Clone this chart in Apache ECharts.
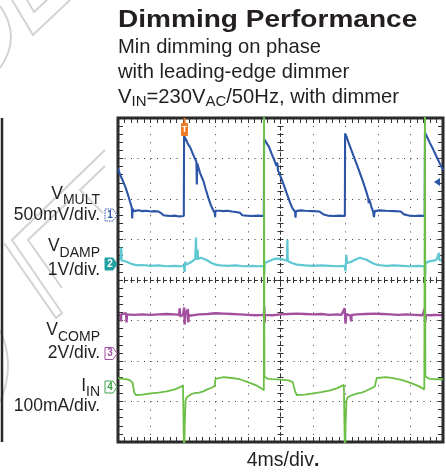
<!DOCTYPE html>
<html>
<head>
<meta charset="utf-8">
<script src="https://cdn.jsdelivr.net/npm/echarts@6/dist/echarts.min.js"></script>
<style>
  html, body { margin: 0; padding: 0; background: #fff; }
  #scope { width: 446px; height: 474px; }
</style>
</head>
<body>
<div id="scope"></div>
<script>
// horizontal: time in ms (4ms/div, 10 div); vertical: scope divisions (8 div)
var timeRange = [0, 40]
var divRange = [0, 8]

// [t ms, divisions]
var vMult = [
  [0, 6.75], [0.3, 6.58], [0.6, 6.45], [0.9, 6.30], [1.2, 6.12], [1.5, 5.92], [1.7, 5.78], [1.75, 5.52], [1.8, 5.76],
  [2.0, 5.70], [2.5, 5.72], [3.0, 5.70], [3.5, 5.71], [4.0, 5.69], [4.5, 5.70], [5.0, 5.69], [5.3, 5.65], [5.6, 5.60],
  [6.0, 5.59], [6.5, 5.58], [7.0, 5.59], [7.5, 5.57], [8.1, 5.58],
  [8.13, 7.55], [8.3, 7.50], [8.6, 7.36], [8.9, 7.27], [9.2, 7.12], [9.5, 6.98], [9.65, 6.92], [9.7, 6.36], [9.75, 6.88],
  [10.1, 6.64], [10.5, 6.45], [10.8, 6.24], [11.1, 6.04], [11.4, 5.86], [11.7, 5.73], [11.9, 5.66], [11.95, 5.55], [12.0, 5.71],
  [12.5, 5.71], [13.0, 5.70], [13.5, 5.71], [14.0, 5.69], [14.5, 5.68], [15.0, 5.66], [15.3, 5.60], [15.8, 5.59], [16.5, 5.58],
  [17.2, 5.59], [17.95, 5.58],
  [17.98, 7.48], [18.1, 7.52], [18.3, 7.38], [18.6, 7.28], [18.9, 7.12], [19.2, 6.98], [19.5, 6.82], [19.6, 6.90], [19.7, 6.70],
  [20.0, 6.56], [20.4, 6.35], [20.8, 6.12], [21.2, 5.90], [21.5, 5.76], [21.8, 5.68], [21.85, 5.54], [21.9, 5.70], [22.5, 5.72],
  [23.0, 5.71], [24.0, 5.70], [24.8, 5.69], [25.3, 5.62], [25.8, 5.59], [26.5, 5.58], [27.3, 5.59], [27.92, 5.58],
  [27.95, 7.62], [28.1, 7.55], [28.4, 7.38], [28.7, 7.22], [29.0, 7.06], [29.3, 6.90], [29.7, 6.68], [30.1, 6.46], [30.5, 6.22],
  [30.8, 6.02], [30.85, 5.90], [30.9, 6.00], [31.2, 5.80], [31.4, 5.69], [31.5, 5.55], [31.6, 5.70], [32.2, 5.72], [33.0, 5.71],
  [34.0, 5.70], [34.8, 5.69], [35.2, 5.62], [35.8, 5.59], [36.5, 5.58], [37.2, 5.59], [37.75, 5.58],
  [37.78, 7.64], [38.0, 7.55], [38.4, 7.38], [38.8, 7.22], [39.2, 7.05], [39.6, 6.88], [40, 6.72]
]

var vDamp = [
  [0, 4.50], [0.3, 4.52], [0.4, 4.80], [0.45, 4.48], [0.8, 4.47], [1.2, 4.44], [1.6, 4.40], [2.0, 4.38], [2.5, 4.36],
  [3.0, 4.37], [4.0, 4.35], [5.0, 4.36], [6.0, 4.34], [7.0, 4.35], [7.8, 4.34], [8.1, 4.36], [8.2, 4.20], [8.25, 4.45],
  [8.4, 4.38], [8.8, 4.42], [9.2, 4.47], [9.5, 4.52], [9.6, 5.05], [9.65, 4.50], [9.8, 4.75], [9.85, 4.52], [10.2, 4.55],
  [10.6, 4.52], [11.0, 4.48], [11.5, 4.42], [12.0, 4.38], [12.6, 4.36], [13.5, 4.35], [14.5, 4.36], [15.5, 4.34],
  [16.5, 4.35], [17.5, 4.34], [17.95, 4.35], [18.0, 4.15], [18.05, 4.42], [18.4, 4.45], [18.8, 4.48], [19.2, 4.52],
  [19.6, 4.53], [20.0, 4.52], [20.4, 4.50], [20.8, 4.48], [20.85, 5.00], [20.9, 4.47], [21.4, 4.42], [22.0, 4.38],
  [23.0, 4.36], [24.0, 4.35], [25.0, 4.36], [26.0, 4.35], [27.0, 4.34], [27.9, 4.35], [28.0, 4.22], [28.1, 4.62],
  [28.2, 4.42], [28.6, 4.44], [29.0, 4.48], [29.4, 4.52], [29.8, 4.55], [30.2, 4.52], [30.6, 4.50], [31.0, 4.45],
  [31.5, 4.40], [32.0, 4.37], [33.0, 4.35], [34.0, 4.36], [35.0, 4.35], [36.0, 4.34], [37.0, 4.35], [37.75, 4.34],
  [37.8, 4.10], [37.85, 4.42], [38.3, 4.46], [38.8, 4.48], [39.2, 4.50], [39.5, 4.67], [39.55, 4.49], [40, 4.48]
]

var vComp = [
  [0, 3.16], [0.3, 3.12], [0.35, 2.98], [0.4, 3.15], [1.0, 3.18], [1.05, 2.95], [1.1, 3.15], [2.0, 3.14], [3.0, 3.15],
  [4.0, 3.14], [5.0, 3.15], [6.0, 3.16], [7.0, 3.15], [7.5, 3.14], [7.6, 3.30], [7.65, 3.10], [8.0, 3.14], [8.15, 3.32],
  [8.2, 2.90], [8.3, 3.15], [8.6, 3.28], [8.65, 2.95], [8.7, 3.14], [9.0, 3.12], [9.5, 3.14], [10.0, 3.15], [11.0, 3.16],
  [12.0, 3.18], [13.0, 3.17], [14.0, 3.16], [15.0, 3.15], [16.0, 3.14], [17.0, 3.13], [17.95, 3.14], [18.0, 3.35],
  [18.05, 2.95], [18.1, 3.14], [19.0, 3.13], [20.0, 3.15], [21.0, 3.16], [22.0, 3.17], [23.0, 3.16], [24.0, 3.15],
  [25.0, 3.16], [26.0, 3.14], [27.0, 3.15], [27.5, 3.14], [27.9, 3.30], [28.0, 2.92], [28.1, 3.16], [28.6, 3.12],
  [28.7, 2.98], [28.75, 3.14], [29.5, 3.15], [30.5, 3.16], [31.5, 3.17], [32.5, 3.16], [33.5, 3.15], [34.5, 3.14],
  [35.5, 3.15], [36.5, 3.14], [37.5, 3.13], [37.75, 3.30], [37.8, 2.95], [37.9, 3.14], [38.5, 3.13], [39.0, 3.14], [40, 3.13]
]

var iIn = [
  [0, 1.58], [0.5, 1.56], [1.0, 1.55], [1.5, 1.52], [1.8, 1.46], [2.0, 1.22], [2.2, 1.16], [3.0, 1.17], [4.0, 1.20],
  [5.0, 1.22], [6.0, 1.25], [7.0, 1.30], [7.7, 1.36], [8.0, 1.40], [8.1, 1.42], [8.14, -0.5], [8.22, 0.5],
  [8.32, 1.02], [8.45, 1.10], [8.6, 1.13], [9.0, 1.18], [9.5, 1.21], [10.0, 1.22], [10.5, 1.25], [11.0, 1.30], [11.5, 1.34],
  [11.9, 1.38], [12.0, 1.56], [12.1, 1.60], [13.0, 1.60], [14.0, 1.58], [15.0, 1.55], [16.0, 1.48], [17.0, 1.40],
  [17.6, 1.33], [17.95, 1.28], [17.97, 9], [18.02, 1.62], [18.4, 1.56], [19.0, 1.55], [20.0, 1.54], [21.0, 1.52],
  [21.5, 1.48], [21.8, 1.25], [22.0, 1.16], [23.0, 1.17], [24.0, 1.20], [25.0, 1.23], [26.0, 1.27], [27.0, 1.33],
  [27.8, 1.41], [27.9, 1.42], [27.94, -0.5], [28.02, 0.5], [28.12, 1.02], [28.25, 1.10], [28.5, 1.13], [29.0, 1.17],
  [29.5, 1.20], [30.0, 1.22], [30.5, 1.26], [31.0, 1.31], [31.6, 1.37], [31.75, 1.40], [31.85, 1.58], [32.0, 1.60],
  [33.0, 1.60], [34.0, 1.57], [35.0, 1.53], [36.0, 1.46], [37.0, 1.38], [37.7, 1.30], [37.76, 1.28], [37.78, 9],
  [37.83, 1.62], [38.3, 1.56], [39.0, 1.55], [40, 1.55]
]

var channelNames = ['MULT', 'DAMP', 'COMP', 'IN']
var channelScales = ['500mV/div.', '1V/div.', '2V/div.', '100mA/div.']
var titleText = 'Dimming Performance'
var subLines = ['Min dimming on phase', 'with leading-edge dimmer']
var timeScale = '4ms/div'

var colors = {
  mult: '#2d55a7',
  damp: '#5fc8d2',
  comp: '#a24f9f',
  iin: '#6cbf45',
  ink: '#231f20',
  frame: '#2a2a2a',
  mark: '#d3d3d3'
}
var FONT = '"Liberation Sans", Arial, sans-serif'

var ctx = document.createElement('canvas').getContext('2d')
function textWidth (str, font) {
  ctx.font = font
  return ctx.measureText(str).width
}

// a run of text pieces [text, size, dy, weight]; align left/right/center at x
function textRun (pieces, x, y, align) {
  var fonts = pieces.map(function (p) { return (p[3] || 'normal') + ' ' + p[1] + 'px ' + FONT })
  var widths = pieces.map(function (p, i) { return textWidth(p[0], fonts[i]) })
  var total = widths.reduce(function (a, b) { return a + b }, 0)
  var cx = align === 'right' ? x - total : (align === 'center' ? x - total / 2 : x)
  return pieces.map(function (p, i) {
    var el = {
      type: 'text',
      x: cx,
      y: y + p[2],
      z: 10,
      style: { text: p[0], font: fonts[i], fill: colors.ink, align: 'left', verticalAlign: 'middle' }
    }
    cx += widths[i]
    return el
  })
}

function chanMarker (num, cy, color, filled, dashed) {
  return [{
    type: 'polygon',
    z: 10,
    shape: { points: [[105, cy - 6], [113, cy - 6], [117, cy], [113, cy + 6], [105, cy + 6]] },
    style: { fill: filled ? color : '#fff', stroke: color, lineWidth: 1, lineDash: dashed ? [1.5, 1] : null }
  }, {
    type: 'text',
    z: 11,
    x: 110,
    y: cy,
    style: { text: String(num), font: 'bold 10px ' + FONT, fill: filled ? '#fff' : color, align: 'center', verticalAlign: 'middle' }
  }]
}

// faint watermark strokes behind everything
function wm (type, shape) {
  return { type: type, z: 0, silent: true, shape: shape, style: { stroke: colors.mark, lineWidth: 2, fill: null } }
}
var watermark = [
  wm('bezierCurve', { x1: 0, y1: 6, cpx1: 22, cpy1: 37, x2: 0, y2: 68 }),
  wm('polyline', { points: [[12, 0], [33, 35], [70, 0]] }),
  wm('polyline', { points: [[27, 0], [34, 12], [47, 0]] }),
  wm('polyline', { points: [[105, 150], [12, 240], [62, 313], [56, 318], [4, 243]] }),
  wm('polyline', { points: [[105, 166], [80, 190], [103, 213]] }),
  wm('polyline', { points: [[70, 200], [28, 240], [62, 288]] }),
  wm('bezierCurve', { x1: 0, y1: 330, cpx1: 16, cpy1: 365, x2: 0, y2: 402 })
]

var graphics = watermark.slice()
graphics.push({
  type: 'text', x: 118, y: 20.5, scaleX: 1.145, z: 10,
  style: { text: titleText, font: 'bold 24.5px ' + FONT, fill: colors.ink, verticalAlign: 'middle' }
})
graphics = graphics.concat(
  textRun([[subLines[0], 20.2, 0]], 118, 47, 'left'),
  textRun([[subLines[1], 20.2, 0]], 118, 72, 'left'),
  textRun([['V', 20.2, 0], ['IN', 15, 4.5], ['=230V', 20.2, 0], ['AC', 15, 4.5], ['/50Hz, with dimmer', 20.2, 0]], 118, 97, 'left'),
  textRun([['V', 17.5, 0], [channelNames[0], 14, 6]], 100, 194, 'right'),
  textRun([[channelScales[0], 17.5, 0]], 100, 215, 'right'),
  textRun([['V', 17.5, 0], [channelNames[1], 14, 7]], 100, 246.5, 'right'),
  textRun([[channelScales[1], 17.5, 0]], 100, 270, 'right'),
  textRun([['V', 17.5, 0], [channelNames[2], 14, 7]], 100, 330, 'right'),
  textRun([[channelScales[2], 17.5, 0]], 100, 353.5, 'right'),
  textRun([['I', 17.5, 0], [channelNames[3], 14, 6]], 100, 386.5, 'right'),
  textRun([[channelScales[3], 17.5, 0]], 100, 406.5, 'right'),
  textRun([[timeScale, 19.5, 0], ['.', 19.5, 0, 'bold']], 283, 461, 'center'),
  chanMarker(1, 215, colors.mult, false, true),
  chanMarker(2, 264, '#23a0a0', true, false),
  chanMarker(3, 353.5, colors.comp, false, false),
  chanMarker(4, 387, '#3fa24a', false, false)
)
// trigger flag and trigger level arrow
graphics.push(
  { type: 'line', z: 10, shape: { x1: 184.5, y1: 118, x2: 184.5, y2: 124 }, style: { stroke: '#f07a22', lineWidth: 2 } },
  { type: 'rect', z: 10, shape: { x: 181, y: 123, width: 7, height: 13, r: 1 }, style: { fill: '#f07a22' } },
  { type: 'text', z: 11, x: 184.5, y: 129.5, style: { text: 'T', font: 'bold 9px ' + FONT, fill: '#fff', align: 'center', verticalAlign: 'middle' } },
  { type: 'polygon', z: 10, shape: { points: [[434, 182], [440, 178], [440, 186]] }, style: { fill: colors.mult } },
  // edge of neighbouring scope shot
  { type: 'line', z: 10, shape: { x1: 2, y1: 118, x2: 2, y2: 442 }, style: { stroke: colors.frame, lineWidth: 2.5 } }
)

function frameAxis (pos, isX, split) {
  return {
    type: 'value',
    gridIndex: 0,
    position: pos,
    min: isX ? timeRange[0] : divRange[0],
    max: isX ? timeRange[1] : divRange[1],
    interval: isX ? 4 : 1,
    axisLine: { show: false, onZero: false },
    axisLabel: { show: false },
    axisTick: { show: true, inside: true, length: 5, lineStyle: { color: '#333', width: 1 } },
    minorTick: { show: true, splitNumber: 5, length: 5, lineStyle: { color: '#333', width: 1 } },
    splitLine: { show: split, lineStyle: { color: '#3a3a3a', width: 1, type: isX ? [1, 7.1] : [1, 5.5] } },
    minorSplitLine: { show: false }
  }
}
function centreAxis (pos, isX) {
  return {
    type: 'value',
    gridIndex: 1,
    position: pos,
    min: isX ? -20 : -4,
    max: isX ? 20 : 4,
    interval: isX ? 4 : 1,
    axisLine: { show: true, onZero: true, lineStyle: { color: '#333', width: 1, type: [3, 3.5] } },
    axisLabel: { show: false },
    axisTick: { show: true, inside: false, length: 3, lineStyle: { color: '#333', width: 1 } },
    minorTick: { show: true, splitNumber: 5, length: 3, lineStyle: { color: '#333', width: 1 } },
    splitLine: { show: false }
  }
}

function trace (name, data, color, width, z) {
  return {
    name: name,
    type: 'line',
    xAxisIndex: 0,
    yAxisIndex: 0,
    data: data,
    symbol: 'none',
    clip: true,
    z: z,
    lineStyle: { color: color, width: width }
  }
}

var chart = echarts.init(document.getElementById('scope'), null, { renderer: 'canvas' })
chart.setOption({
  animation: false,
  backgroundColor: '#fff',
  textStyle: { fontFamily: FONT },
  grid: [
    { left: 118, top: 118, width: 325, height: 324, show: true, borderColor: colors.frame, borderWidth: 3, backgroundColor: 'transparent', z: 5, outerBoundsMode: 'none' },
    { left: 118, top: 118, width: 325, height: 324, show: false, outerBoundsMode: 'none' }
  ],
  xAxis: [frameAxis('bottom', true, true), frameAxis('top', true, false), centreAxis('bottom', true), centreAxis('top', true)],
  yAxis: [frameAxis('left', false, true), frameAxis('right', false, false), centreAxis('left', false), centreAxis('right', false)],
  series: [
    trace('VCOMP', vComp, colors.comp, 2.4, 3),
    trace('VDAMP', vDamp, colors.damp, 2.2, 4),
    trace('VMULT', vMult, colors.mult, 2.1, 5),
    trace('IIN', iIn, colors.iin, 1.8, 6)
  ],
  graphic: graphics
})
</script>
</body>
</html>
